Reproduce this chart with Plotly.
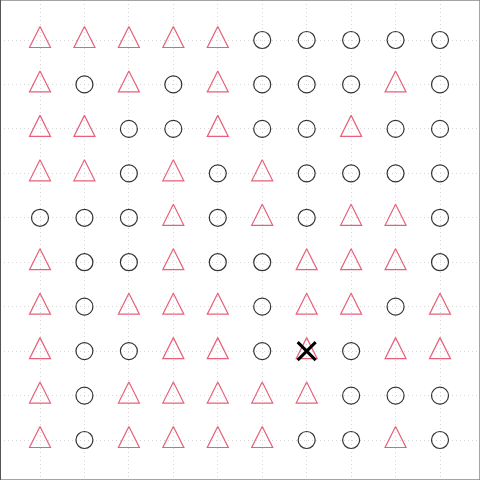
import plotly.graph_objects as go

# cell types per row (top to bottom), columns left to right: T = triangle, C = circle
row1 = ["T", "T", "T", "T", "T", "C", "C", "C", "C", "C"]
row2 = ["T", "C", "T", "C", "T", "C", "C", "C", "T", "C"]
row3 = ["T", "T", "C", "C", "T", "C", "C", "T", "C", "C"]
row4 = ["T", "T", "C", "T", "C", "T", "C", "C", "C", "C"]
row5 = ["C", "C", "C", "T", "C", "T", "C", "T", "T", "C"]
row6 = ["T", "C", "C", "T", "C", "C", "T", "T", "T", "C"]
row7 = ["T", "C", "T", "T", "T", "C", "T", "T", "C", "T"]
row8 = ["T", "C", "C", "T", "T", "C", "T", "C", "T", "T"]
row9 = ["T", "C", "T", "T", "T", "T", "T", "C", "C", "C"]
row10 = ["T", "C", "T", "T", "T", "T", "C", "C", "T", "C"]
rows = [row1, row2, row3, row4, row5, row6, row7, row8, row9, row10]

marked_col = [7]
marked_row = [8]

tx, ty, cx, cy = [], [], [], []
for r, row in enumerate(rows, start=1):
    for c, t in enumerate(row, start=1):
        if t == "T":
            tx.append(c); ty.append(r)
        else:
            cx.append(c); cy.append(r)

fig = go.Figure()
fig.add_trace(go.Scatter(
    x=cx, y=cy, mode="markers",
    marker=dict(symbol="circle-open", size=17, color="#333333", line=dict(width=1.2, color="#333333")),
    hoverinfo="skip", showlegend=False))
fig.add_trace(go.Scatter(
    x=tx, y=ty, mode="markers",
    marker=dict(symbol="arrow-down-open", size=21, angle=180, standoff=13.5, color="#E8607A",
                line=dict(width=1.2, color="#E8607A")),
    hoverinfo="skip", showlegend=False))
fig.add_trace(go.Scatter(
    x=marked_col, y=marked_row, mode="markers",
    marker=dict(symbol="x-thin-open", size=18, color="black", line=dict(width=3, color="black")),
    hoverinfo="skip", showlegend=False))

grid = dict(showgrid=True, gridcolor="#d6d6d6", griddash="1px,3px", gridwidth=1,
            zeroline=False, showticklabels=False, ticks="", dtick=1, tick0=1)
fig.update_xaxes(range=[0.1, 10.9], **grid)
fig.update_yaxes(range=[10.9, 0.1], **grid)
fig.update_layout(
    width=480, height=480, margin=dict(l=0, r=0, t=0, b=0),
    paper_bgcolor="white", plot_bgcolor="white",
    shapes=[dict(type="rect", xref="paper", yref="paper", x0=0, y0=0, x1=1, y1=1,
                 line=dict(color="#888888", width=1.5)),
            dict(type="line", xref="paper", yref="paper", x0=0, y0=0, x1=0, y1=1,
                 line=dict(color="#555555", width=2))])
fig.write_html("out.html", config={"displayModeBar": False},
               post_script="document.body.style.margin='0';document.body.style.overflow='hidden';")
